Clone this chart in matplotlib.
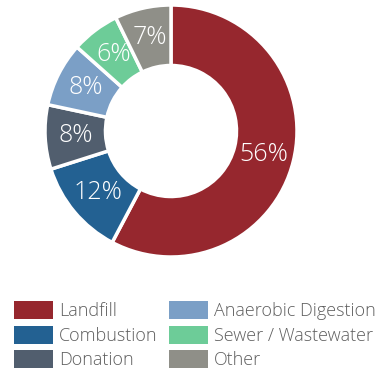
import numpy as np
import matplotlib
matplotlib.use('Agg')
import matplotlib.pyplot as plt
from matplotlib.patches import Patch

# Waste destination shares (percent)
categories = ['Landfill', 'Combustion', 'Donation',
              'Anaerobic Digestion', 'Sewer / Wastewater', 'Other']
shares = [56, 12, 8, 8, 6, 7]
colors = ['#96272e', '#236192', '#515e6e', '#7b9fc6', '#6dcc98', '#8f8f88']

plt.rcParams['font.family'] = ['Open Sans', 'DejaVu Sans']

W, H = 377, 369
fig = plt.figure(figsize=(W / 100, H / 100), dpi=100)

cx, cy, r = 171, 131, 126
ax = fig.add_axes([(cx - r) / W, (H - cy - r) / H, 2 * r / W, 2 * r / H])

wedges, _ = ax.pie(
    shares,
    colors=colors,
    startangle=90,
    counterclock=False,
    radius=1.0,
    wedgeprops=dict(width=0.48, edgecolor='white', linewidth=2.5),
)
ax.set_xlim(-1, 1)
ax.set_ylim(-1, 1)
ax.set_aspect('equal')
ax.axis('off')

# Percent labels in the middle of each ring segment
for w, v in zip(wedges, shares):
    ang = np.deg2rad((w.theta1 + w.theta2) / 2)
    d = 0.76
    ax.text(d * np.cos(ang), d * np.sin(ang), f'{v}%',
            ha='center', va='center', color='white',
            fontsize=18, fontweight='light')

handles = [Patch(facecolor=c) for c in colors]
fig.legend(handles, categories, ncol=2, loc='upper left',
           bbox_to_anchor=(9 / W, 1 - 296 / H),
           frameon=False,
           handlelength=2.15, handleheight=1.15,
           handletextpad=0.33, labelspacing=0.3,
           columnspacing=0.62, borderaxespad=0, borderpad=0.3,
           labelcolor='#5f5f5f', prop=dict(weight='light', size=13))

fig.savefig('out.png', dpi=100)
